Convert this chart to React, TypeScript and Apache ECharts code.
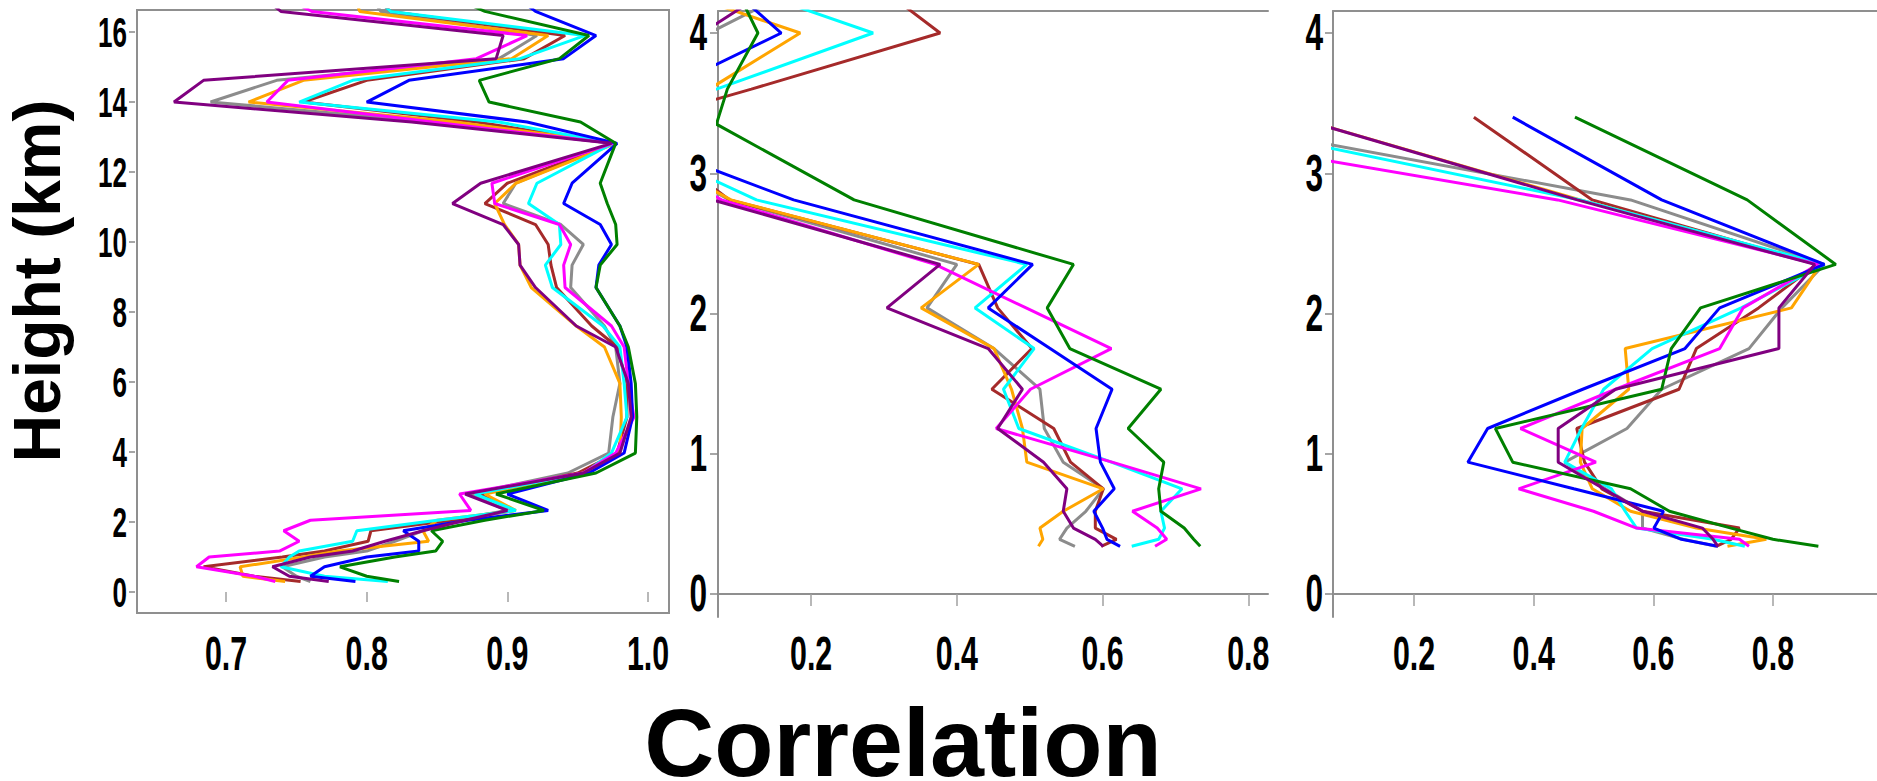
import React, { useEffect, useRef } from "react";
import * as echarts from "echarts";

// ---------- Data ----------
// Panel 1 heights (km)
const H1 = [0.3, 0.45, 0.72, 1.0, 1.17, 1.45, 1.75, 2.05, 2.33, 2.8, 3.4, 3.97, 5.0, 5.96, 7.0, 7.6, 8.7, 9.34, 9.93, 10.5, 11.1, 11.68, 12.82, 13.43, 14.0, 14.62, 15.24, 15.9, 16.59, 17.2];
const p1Green = [0.823, 0.8, 0.781, 0.82, 0.849, 0.854, 0.846, 0.884, 0.926, 0.892, 0.963, 0.991, 0.992, 0.991, 0.986, 0.98, 0.963, 0.966, 0.978, 0.977, 0.971, 0.966, 0.977, 0.952, 0.887, 0.88, 0.937, 0.958, 0.884, 0.85];
const p1Blue = [0.792, 0.76, 0.77, 0.8, 0.837, 0.837, 0.826, 0.872, 0.929, 0.9, 0.958, 0.983, 0.989, 0.988, 0.985, 0.98, 0.963, 0.965, 0.974, 0.966, 0.94, 0.946, 0.978, 0.914, 0.8, 0.83, 0.94, 0.963, 0.92, 0.9];
const p1Cyan = [0.815, 0.77, 0.739, 0.745, 0.752, 0.79, 0.793, 0.85, 0.906, 0.877, 0.955, 0.974, 0.985, 0.983, 0.98, 0.968, 0.932, 0.927, 0.938, 0.937, 0.915, 0.921, 0.975, 0.894, 0.752, 0.79, 0.909, 0.955, 0.817, 0.8];
const p1Magenta = [0.735, 0.72, 0.679, 0.688, 0.738, 0.752, 0.741, 0.76, 0.874, 0.866, 0.954, 0.977, 0.99, 0.986, 0.983, 0.974, 0.941, 0.94, 0.945, 0.937, 0.891, 0.889, 0.975, 0.847, 0.729, 0.744, 0.878, 0.914, 0.761, 0.73];
const p1Purple = [0.773, 0.745, 0.733, 0.76, 0.79, 0.813, 0.84, 0.87, 0.9, 0.87, 0.954, 0.98, 0.988, 0.986, 0.977, 0.949, 0.92, 0.909, 0.908, 0.897, 0.861, 0.881, 0.974, 0.832, 0.663, 0.684, 0.892, 0.897, 0.739, 0.72];
const p1Gray = [0.76, 0.75, 0.74, 0.77, 0.8, 0.82, 0.84, 0.86, 0.9, 0.873, 0.943, 0.972, 0.975, 0.98, 0.977, 0.969, 0.945, 0.946, 0.954, 0.938, 0.897, 0.906, 0.975, 0.847, 0.689, 0.736, 0.894, 0.921, 0.81, 0.8];
const p1Orange = [0.742, 0.712, 0.71, 0.755, 0.78, 0.844, 0.84, 0.85, 0.906, 0.884, 0.954, 0.98, 0.981, 0.98, 0.969, 0.949, 0.917, 0.909, 0.908, 0.898, 0.891, 0.906, 0.977, 0.863, 0.716, 0.755, 0.903, 0.929, 0.795, 0.79];
const p1Brown = [0.753, 0.72, 0.684, 0.74, 0.77, 0.801, 0.803, 0.86, 0.905, 0.88, 0.95, 0.978, 0.985, 0.985, 0.978, 0.96, 0.935, 0.931, 0.929, 0.92, 0.884, 0.9, 0.975, 0.878, 0.755, 0.8, 0.912, 0.941, 0.817, 0.8];

// Panel 2 heights (km)
const H2 = [0.34, 0.39, 0.47, 0.59, 0.75, 0.94, 1.18, 1.46, 1.75, 2.04, 2.35, 2.81, 3.35, 3.6, 4.0, 4.5];
const p2Green = [0.734, 0.725, 0.712, 0.68, 0.677, 0.684, 0.635, 0.68, 0.555, 0.524, 0.56, 0.259, 0.07, 0.085, 0.127, 0.08];
const p2Blue = [0.624, 0.606, 0.6, 0.588, 0.616, 0.597, 0.591, 0.613, 0.528, 0.443, 0.504, 0.176, -0.1, 0.0, 0.159, 0.05];
const p2Cyan = [0.64, 0.677, 0.685, 0.68, 0.709, 0.612, 0.485, 0.464, 0.506, 0.425, 0.496, 0.125, -0.1, 0.07, 0.285, 0.007];
const p2Brown = [0.598, 0.619, 0.59, 0.59, 0.601, 0.556, 0.533, 0.448, 0.503, 0.456, 0.43, 0.088, -0.05, 0.118, 0.377, 0.25];
const p2Orange = [0.512, 0.518, 0.514, 0.546, 0.601, 0.496, 0.49, 0.475, 0.451, 0.351, 0.43, 0.09, -0.1, 0.06, 0.185, -0.1];
const p2Gray = [0.562, 0.541, 0.551, 0.577, 0.601, 0.546, 0.52, 0.514, 0.451, 0.359, 0.4, 0.088, -0.1, -0.1, 0.06, 0.25];
const p2Purple = [0.601, 0.59, 0.56, 0.546, 0.551, 0.519, 0.456, 0.49, 0.443, 0.304, 0.377, 0.065, -0.1, -0.1, 0.05, 0.2];
const p2Magenta = [0.672, 0.688, 0.675, 0.641, 0.735, 0.613, 0.454, 0.501, 0.612, 0.495, 0.37, 0.077, -0.1, -0.2, -0.2, -0.2];

// Panel 3 heights (km)
const H3 = [0.34, 0.39, 0.47, 0.59, 0.75, 0.94, 1.18, 1.46, 1.75, 2.04, 2.35, 2.81, 3.4];
const p3Green = [0.876, 0.8, 0.73, 0.627, 0.562, 0.365, 0.336, 0.614, 0.63, 0.679, 0.905, 0.757, 0.469];
const p3Blue = [0.708, 0.647, 0.601, 0.617, 0.467, 0.29, 0.323, 0.482, 0.653, 0.711, 0.886, 0.614, 0.365];
const p3Brown = [0.705, 0.73, 0.744, 0.582, 0.514, 0.485, 0.472, 0.643, 0.672, 0.776, 0.873, 0.498, 0.3];
const p3Purple = [0.708, 0.7, 0.682, 0.582, 0.517, 0.441, 0.441, 0.537, 0.81, 0.81, 0.87, 0.473, 0.0];
const p3Gray = [0.705, 0.65, 0.582, 0.582, 0.52, 0.452, 0.556, 0.614, 0.76, 0.815, 0.886, 0.562, -0.19];
const p3Cyan = [0.753, 0.7, 0.572, 0.553, 0.53, 0.452, 0.48, 0.517, 0.598, 0.747, 0.886, 0.478, -0.19];
const p3Orange = [0.724, 0.789, 0.672, 0.562, 0.498, 0.478, 0.481, 0.559, 0.553, 0.831, 0.88, 0.478, 0.0];
const p3Magenta = [0.76, 0.744, 0.572, 0.5, 0.375, 0.504, 0.378, 0.537, 0.711, 0.75, 0.876, 0.44, -0.37];

// Tick values
const X1_TICKS = [0.7, 0.8, 0.9, 1.0];
const X2_TICKS = [0.2, 0.4, 0.6, 0.8];
const X3_TICKS = [0.2, 0.4, 0.6, 0.8];
const Y1_TICKS = [0, 2, 4, 6, 8, 10, 12, 14, 16];
const Y23_TICKS = [0, 1, 2, 3, 4];

const COLORS: Record<string, string> = {
  purple: "#800080",
  gray: "#8c8c8c",
  magenta: "#ff00ff",
  orange: "#ffa500",
  brown: "#a52a2a",
  cyan: "#00ffff",
  blue: "#0000ff",
  green: "#008000",
};

const PANEL1: [string, number[]][] = [
  ["gray", p1Gray], ["brown", p1Brown], ["orange", p1Orange], ["cyan", p1Cyan],
  ["magenta", p1Magenta], ["blue", p1Blue], ["green", p1Green], ["purple", p1Purple],
];
const PANEL2: [string, number[]][] = [
  ["gray", p2Gray], ["brown", p2Brown], ["orange", p2Orange], ["cyan", p2Cyan],
  ["magenta", p2Magenta], ["blue", p2Blue], ["green", p2Green], ["purple", p2Purple],
];
const PANEL3: [string, number[]][] = [
  ["gray", p3Gray], ["brown", p3Brown], ["orange", p3Orange], ["cyan", p3Cyan],
  ["magenta", p3Magenta], ["blue", p3Blue], ["green", p3Green], ["purple", p3Purple],
];

const LABEL_FONT = "'Liberation Sans', Arial, sans-serif";
const AXIS_GRAY = "#8f8f8f";
const TICK_GRAY = "#a0a0a0";

function buildSeries(panel: [string, number[]][], heights: number[], idx: number) {
  return panel.map(([name, xs]) => ({
    type: "line",
    name,
    xAxisIndex: idx,
    yAxisIndex: idx,
    data: xs.map((x, i) => [x, heights[i]]),
    showSymbol: false,
    symbol: "none",
    clip: true,
    lineStyle: { color: COLORS[name], width: 3 },
    itemStyle: { color: COLORS[name] },
    emphasis: { disabled: true },
  }));
}

function tickText(text: string, x: number, y: number, size: number, align: string) {
  return {
    type: "text",
    x,
    y,
    scaleX: 0.62,
    silent: true,
    style: {
      text,
      font: `bold ${size}px ${LABEL_FONT}`,
      fill: "#000",
      align,
      verticalAlign: "middle",
    },
  };
}

export default function App() {
  const ref = useRef<HTMLDivElement>(null);

  useEffect(() => {
    if (!ref.current) return;
    const chart = echarts.init(ref.current, undefined, { renderer: "svg" });

    const noLabel = { show: false };

    const option: any = {
      animation: false,
      backgroundColor: "#ffffff",
      grid: [
        { left: 137, top: 10, width: 532, height: 603, show: true, borderColor: AXIS_GRAY, borderWidth: 2, backgroundColor: "transparent" },
        { left: 718, top: 11, width: 550, height: 606 },
        { left: 1333, top: 11, width: 544, height: 606 },
      ],
      xAxis: [
        {
          type: "value", gridIndex: 0, min: 0.6367, max: 1.0149, position: "bottom", offset: 4,
          axisLine: { show: false },
          axisTick: { show: true, length: 10, customValues: X1_TICKS, lineStyle: { color: TICK_GRAY, width: 1.5 } },
          axisLabel: noLabel,
          splitLine: { show: false },
        },
        {
          type: "value", gridIndex: 1, min: 0.0722, max: 0.827, position: "bottom",
          axisLine: { show: true, lineStyle: { color: AXIS_GRAY, width: 2 } },
          axisTick: { show: true, length: 12, customValues: X2_TICKS, lineStyle: { color: TICK_GRAY, width: 1.5 } },
          axisLabel: noLabel,
          splitLine: { show: false },
        },
        {
          type: "value", gridIndex: 2, min: 0.0645, max: 0.974, position: "bottom",
          axisLine: { show: true, lineStyle: { color: AXIS_GRAY, width: 2 } },
          axisTick: { show: true, length: 12, customValues: X3_TICKS, lineStyle: { color: TICK_GRAY, width: 1.5 } },
          axisLabel: noLabel,
          splitLine: { show: false },
        },
        {
          type: "value", gridIndex: 1, min: 0.0722, max: 0.827, position: "top",
          axisLine: { show: true, lineStyle: { color: AXIS_GRAY, width: 2 } },
          axisTick: { show: false }, axisLabel: noLabel, splitLine: { show: false },
        },
        {
          type: "value", gridIndex: 2, min: 0.0645, max: 0.974, position: "top",
          axisLine: { show: true, lineStyle: { color: AXIS_GRAY, width: 2 } },
          axisTick: { show: false }, axisLabel: noLabel, splitLine: { show: false },
        },
      ],
      yAxis: [
        {
          type: "value", gridIndex: 0, min: -0.6, max: 16.63, position: "left", offset: 2,
          axisLine: { show: false },
          axisTick: { show: true, length: 6, customValues: Y1_TICKS, lineStyle: { color: "#888888", width: 1.5 } },
          axisLabel: noLabel,
          splitLine: { show: false },
        },
        {
          type: "value", gridIndex: 1, min: -0.164, max: 4.157, position: "left",
          axisLine: { show: true, lineStyle: { color: AXIS_GRAY, width: 2 } },
          axisTick: { show: true, length: 8, customValues: Y23_TICKS, lineStyle: { color: "#888888", width: 1.5 } },
          axisLabel: noLabel,
          splitLine: { show: false },
        },
        {
          type: "value", gridIndex: 2, min: -0.164, max: 4.157, position: "left",
          axisLine: { show: true, lineStyle: { color: AXIS_GRAY, width: 2 } },
          axisTick: { show: true, length: 8, customValues: Y23_TICKS, lineStyle: { color: "#888888", width: 1.5 } },
          axisLabel: noLabel,
          splitLine: { show: false },
        },
      ],
      series: [
        ...buildSeries(PANEL1, H1, 0),
        ...buildSeries(PANEL2, H2, 1),
        ...buildSeries(PANEL3, H3, 2),
      ],
    };

    chart.setOption(option);

    // Tick labels placed through the axes' own scales (condensed look via scaleX)
    const labels: any[] = [];
    const xSets: [number[], number][] = [[X1_TICKS, 0], [X2_TICKS, 1], [X3_TICKS, 2]];
    xSets.forEach(([vals, idx]) => {
      vals.forEach((v) => {
        const px = chart.convertToPixel({ xAxisIndex: idx } as any, v) as unknown as number;
        labels.push(tickText(v.toFixed(1), px, 653, 49, "center"));
      });
    });
    const ySets: [number[], number, number, number][] = [
      [Y1_TICKS, 0, 127, 42],
      [Y23_TICKS, 1, 707, 51],
      [Y23_TICKS, 2, 1323, 51],
    ];
    ySets.forEach(([vals, idx, right, size]) => {
      vals.forEach((v) => {
        const py = chart.convertToPixel({ yAxisIndex: idx } as any, v) as unknown as number;
        labels.push(tickText(String(v), right, py, size, "right"));
      });
    });

    chart.setOption({
      graphic: [
        {
          type: "text",
          x: 37,
          y: 281,
          rotation: Math.PI / 2,
          style: {
            text: "Height (km)",
            font: `bold 66px ${LABEL_FONT}`,
            fill: "#000",
            align: "center",
            verticalAlign: "middle",
          },
        },
        {
          type: "text",
          x: 903,
          y: 742,
          style: {
            text: "Correlation",
            font: `bold 97px ${LABEL_FONT}`,
            fill: "#000",
            align: "center",
            verticalAlign: "middle",
          },
        },
        ...labels,
      ],
    });

    return () => chart.dispose();
  }, []);

  return (
    <div
      ref={ref}
      style={{ position: "absolute", left: 0, top: 0, width: 1877, height: 781, background: "#fff" }}
    />
  );
}
